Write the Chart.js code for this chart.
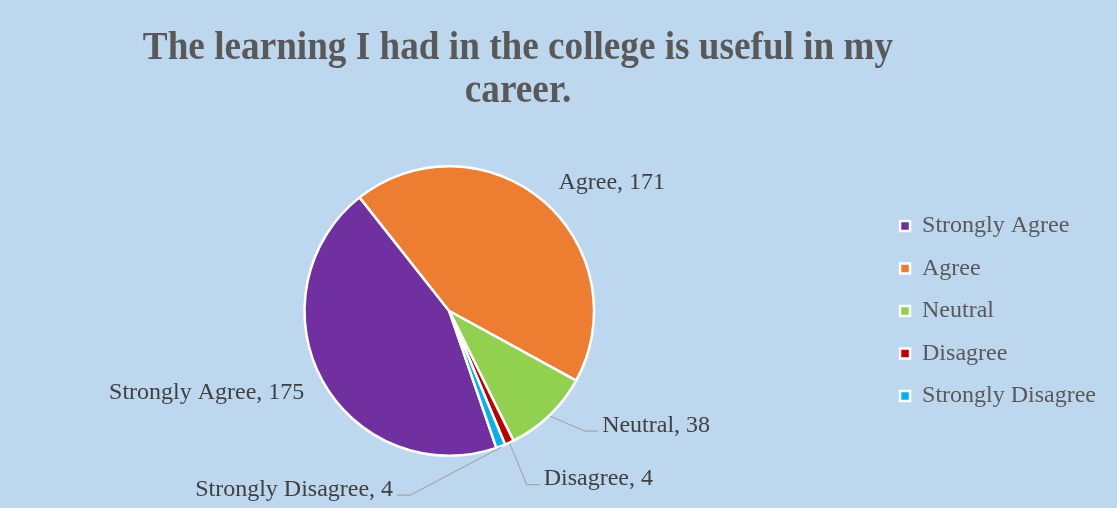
<!DOCTYPE html>
<html>
<head>
<meta charset="utf-8">
<script src="https://cdn.jsdelivr.net/npm/chart.js@4.4.1/dist/chart.umd.min.js"></script>
<style>
  html, body { margin: 0; padding: 0; background: #bdd7ee; }
  canvas { display: block; }
</style>
</head>
<body>
<canvas id="chart" width="1117" height="508"></canvas>
<script>
// data
const titleLines = ['The learning I had in the college is useful in my', 'career.'];
const categories = ['Strongly Agree', 'Agree', 'Neutral', 'Disagree', 'Strongly Disagree'];
const responses = [175, 171, 38, 4, 4];
const sliceColors = ['#7030a0', '#ed7d31', '#92d050', '#c00000', '#00b0f0'];

// fills the whole canvas with the light blue panel colour
const panelBackground = {
  id: 'panelBackground',
  beforeDraw(chart) {
    const { ctx, width, height } = chart;
    ctx.save();
    ctx.fillStyle = '#bdd7ee';
    ctx.fillRect(0, 0, width, height);
    ctx.restore();
  }
};

// the title in the reference is a condensed bold serif, so squeeze it a bit
const squeezedTitle = {
  id: 'squeezedTitle',
  afterDraw(chart, args, opts) {
    const { ctx } = chart;
    ctx.save();
    ctx.font = 'bold 40px "Liberation Serif", "Times New Roman", serif';
    ctx.fillStyle = '#595959';
    ctx.textAlign = 'center';
    ctx.textBaseline = 'alphabetic';
    opts.lines.forEach((line, i) => {
      ctx.save();
      ctx.translate(opts.centerX, opts.firstBaseline + i * opts.lineGap);
      ctx.scale(opts.squeeze, 1);
      ctx.fillText(line, 0, 0);
      ctx.restore();
    });
    ctx.restore();
  }
};

// "Category, value" labels outside the slices, some with leader lines
const sliceLabels = {
  id: 'sliceLabels',
  afterDatasetsDraw(chart, args, opts) {
    const { ctx } = chart;
    const meta = chart.getDatasetMeta(0);
    const values = chart.data.datasets[0].data;
    ctx.save();
    ctx.font = '24px "Liberation Serif", "Times New Roman", serif';
    ctx.textBaseline = 'middle';
    meta.data.forEach((arc, i) => {
      const { x, y, startAngle, endAngle, outerRadius } = arc.getProps(['x', 'y', 'startAngle', 'endAngle', 'outerRadius'], true);
      const mid = (startAngle + endAngle) / 2;
      const ex = x + Math.cos(mid) * (outerRadius + 1);
      const ey = y + Math.sin(mid) * (outerRadius + 1);
      const p = opts.placement[i];
      const tx = ex + p.dx;
      const ty = ey + p.dy;
      if (p.leader) {
        const dir = p.align === 'left' ? -1 : 1;
        ctx.strokeStyle = '#a6a6a6';
        ctx.lineWidth = 1.2;
        ctx.beginPath();
        ctx.moveTo(ex, ey);
        ctx.lineTo(tx + dir * 17, ty + 6);
        ctx.lineTo(tx + dir * 4, ty + 6);
        ctx.stroke();
      }
      ctx.fillStyle = '#404040';
      ctx.textAlign = p.align;
      ctx.fillText(chart.data.labels[i] + ', ' + values[i], tx, ty);
    });
    ctx.restore();
  }
};

new Chart(document.getElementById('chart'), {
  type: 'pie',
  data: {
    labels: categories,
    datasets: [
      {
        data: responses,
        backgroundColor: sliceColors,
        borderColor: '#ffffff',
        borderWidth: 2.5
      }
    ]
  },
  options: {
    responsive: false,
    animation: false,
    rotation: 161,
    layout: {
      padding: { top: 165, bottom: 51, left: 17, right: 11 }
    },
    plugins: {
      title: { display: false },
      tooltip: { enabled: false },
      legend: {
        position: 'right',
        labels: {
          boxWidth: 10,
          boxHeight: 10,
          padding: 18.5,
          color: '#595959',
          font: { family: '"Liberation Serif", "Times New Roman", serif', size: 24 }
        }
      },
      squeezedTitle: {
        lines: titleLines,
        centerX: 518,
        firstBaseline: 59,
        lineGap: 43,
        squeeze: 0.93
      },
      sliceLabels: {
        placement: [
          { dx: -17, dy: 12, align: 'right', leader: false },
          { dx: 15, dy: -17, align: 'left', leader: false },
          { dx: 52, dy: 9, align: 'left', leader: true },
          { dx: 34, dy: 35, align: 'left', leader: true },
          { dx: -108, dy: 42, align: 'right', leader: true }
        ]
      }
    }
  },
  plugins: [panelBackground, squeezedTitle, sliceLabels]
});
</script>
</body>
</html>
